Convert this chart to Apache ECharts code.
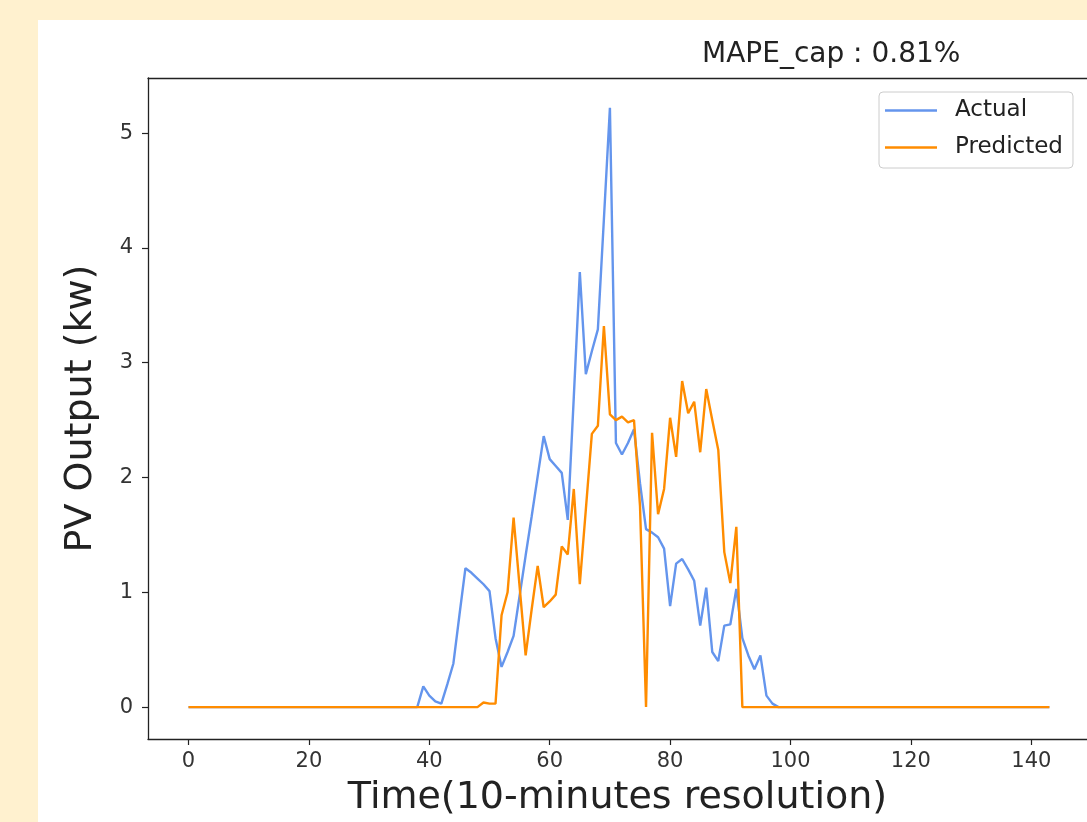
<!DOCTYPE html>
<html><head><meta charset="utf-8">
<script src="https://cdn.jsdelivr.net/npm/echarts@6/dist/echarts.min.js"></script>
<style>
html,body{margin:0;padding:0;background:#fff1cf;width:1087px;height:822px;overflow:hidden;}
#panel{position:absolute;left:38px;top:20px;width:1049px;height:802px;background:#fff;}
#chart{position:absolute;left:0;top:0;width:1087px;height:822px;}
</style></head><body>
<div id="panel"></div><div id="chart"></div>
<script>
const xTicks = [0, 20, 40, 60, 80, 100, 120, 140];
const yTicks = [0, 1, 2, 3, 4, 5];
const titleText = 'MAPE_cap : 0.81%';
const seriesNames = ['Actual', 'Predicted'];
const actual = [
0,0,0,0,0,0,0,0,0,0,
0,0,0,0,0,0,0,0,0,0,
0,0,0,0,0,0,0,0,0,0,
0,0,0,0,0,0,0,0,
0, 0.18, 0.1, 0.05, 0.03, 0.2, 0.38, 0.8, 1.21, 1.17,
1.12, 1.07, 1.01, 0.6, 0.35, 0.48, 0.62, 0.97, 1.32, 1.66,
2.01, 2.36, 2.16, 2.1, 2.04, 1.63, 2.7, 3.79, 2.9, 3.1,
3.29, 4.25, 5.22, 2.3, 2.2, 2.3, 2.42, 1.95, 1.55, 1.52,
1.48, 1.38, 0.88, 1.25, 1.29, 1.2, 1.1, 0.71, 1.04, 0.48,
0.4, 0.71, 0.72, 1.03, 0.6, 0.45, 0.33, 0.45, 0.1, 0.03,
0,0,0,0,0,0,0,0,0,0,
0,0,0,0,0,0,0,0,0,0,
0,0,0,0,0,0,0,0,0,0,
0,0,0,0,0,0,0,0,0,0,
0,0,0,0,0,0
];
const predicted = [
0,0,0,0,0,0,0,0,0,0,
0,0,0,0,0,0,0,0,0,0,
0,0,0,0,0,0,0,0,0,0,
0,0,0,0,0,0,0,0,0,0,
0,0,0,0,0,0,0,0,0,
0.04, 0.03, 0.03, 0.8, 1.0, 1.65, 1.05, 0.45, 0.85, 1.23,
0.87, 0.92, 0.98, 1.4, 1.33, 1.9, 1.07, 1.72, 2.38, 2.45,
3.32, 2.55, 2.5, 2.53, 2.48, 2.5, 1.75, 0, 2.39, 1.68,
1.9, 2.52, 2.18, 2.84, 2.56, 2.66, 2.22, 2.77, 2.5, 2.24,
1.35, 1.08, 1.57, 0,
0,0,0,0,0,0,0,0,0,0,
0,0,0,0,0,0,0,0,0,0,
0,0,0,0,0,0,0,0,0,0,
0,0,0,0,0,0,0,0,0,0,
0,0,0,0,0,0,0,0,0,0,
0
];
const FONT = "'DejaVu Sans', sans-serif";
const X_MIN = -6.73, X_MAX = 149.25, Y_MIN = -0.278, Y_MAX = 5.48;
const chart = echarts.init(document.getElementById('chart'), null, {renderer: 'canvas'});
chart.setOption({
  animation: false,
  backgroundColor: 'transparent',
  textStyle: {fontFamily: FONT},
  title: {
    text: titleText, left: 697, top: 36,
    textStyle: {fontSize: 28, fontWeight: 'normal', color: '#222', fontFamily: FONT}
  },
  legend: {
    data: seriesNames.map(n => ({name: n, icon: 'rect'})),
    orient: 'vertical', left: 879, top: 92,
    itemWidth: 52, itemHeight: 2.5, itemGap: 14,
    padding: [7, 10, 9, 6],
    borderColor: '#cccccc', borderWidth: 1, borderRadius: 4, backgroundColor: '#fff',
    textStyle: {fontSize: 23, color: '#222', fontFamily: FONT, padding: [0, 0, 0, 13]}
  },
  grid: {left: 148, top: 78, right: 0, bottom: 82, show: false},
  xAxis: [{
    type: 'value', min: X_MIN, max: X_MAX,
    name: 'Time(10-minutes resolution)', nameLocation: 'middle', nameGap: 40,
    nameTextStyle: {fontSize: 38, color: '#222', fontFamily: FONT},
    axisLine: {show: true, onZero: false, lineStyle: {color: '#222', width: 1.3}},
    axisTick: {show: true, length: 6, customValues: xTicks, lineStyle: {color: '#222', width: 1.2}},
    axisLabel: {customValues: xTicks, margin: 12, fontSize: 21, color: '#333', fontFamily: FONT},
    splitLine: {show: false}
  }, {
    type: 'value', position: 'top', min: X_MIN, max: X_MAX,
    axisLine: {show: true, onZero: false, lineStyle: {color: '#222', width: 1.3}},
    axisTick: {show: false}, axisLabel: {show: false}, splitLine: {show: false}
  }],
  yAxis: {
    type: 'value', min: Y_MIN, max: Y_MAX,
    name: 'PV Output (kw)', nameLocation: 'middle', nameGap: 48, nameRotate: 90,
    nameTextStyle: {fontSize: 38, color: '#222', fontFamily: FONT},
    axisLine: {show: true, onZero: false, lineStyle: {color: '#222', width: 1.3}},
    axisTick: {show: true, length: 6, customValues: yTicks, lineStyle: {color: '#222', width: 1.2}},
    axisLabel: {customValues: yTicks, margin: 15, fontSize: 21, color: '#333', fontFamily: FONT},
    splitLine: {show: false}
  },
  series: [
    {name: seriesNames[0], type: 'line', symbol: 'none', showSymbol: false, xAxisIndex: 0,
     data: actual.map((v, i) => [i, v]),
     lineStyle: {width: 2.4, color: '#6495ED'}, itemStyle: {color: '#6495ED'}},
    {name: seriesNames[1], type: 'line', symbol: 'none', showSymbol: false, xAxisIndex: 0,
     data: predicted.map((v, i) => [i, v]),
     lineStyle: {width: 2.4, color: '#FF8C00'}, itemStyle: {color: '#FF8C00'}}
  ]
});
</script>
</body></html>
